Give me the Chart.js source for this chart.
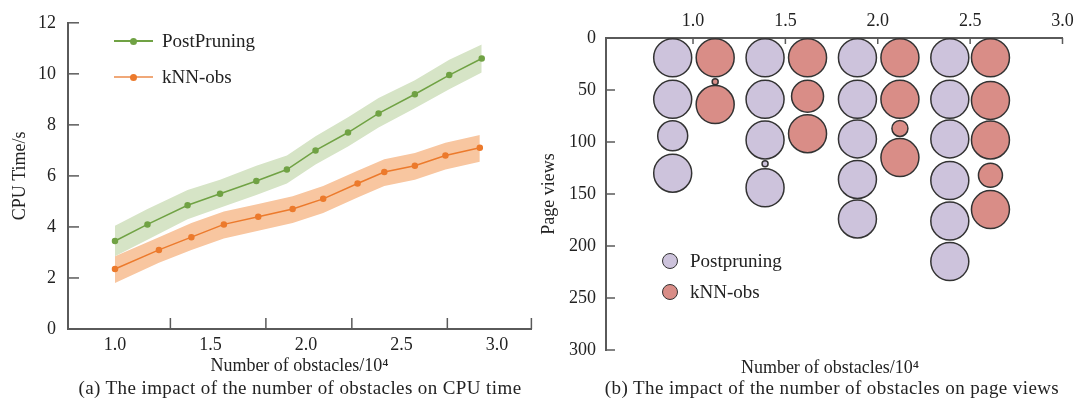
<!DOCTYPE html>
<html>
<head>
<meta charset="utf-8">
<script src="https://cdn.jsdelivr.net/npm/chart.js@4.4.1/dist/chart.umd.min.js"></script>
<style>
  body { margin: 0; background: #fff; width: 1083px; height: 404px; overflow: hidden; position: relative;
         font-family: 'Liberation Serif', serif; color: #222; }
  .box { position: absolute; top: 0; height: 380px; }
  #left { left: 0; width: 545px; }
  #right { left: 540px; width: 543px; }
  .cap { position: absolute; top: 377px; font-size: 19px; line-height: 22px; letter-spacing: 0.4px;
         white-space: nowrap; transform: translateX(-50%); }
  .ttl { position: absolute; top: 356px; font-size: 18px; line-height: 22px; white-space: nowrap; transform: translateX(-50%); }
  .leg { position: absolute; font-size: 19px; line-height: 20px; white-space: nowrap; }
  .sw { position: absolute; }
</style>
</head>
<body>
<div class="box" id="left"><canvas id="cpu"></canvas></div>
<div class="box" id="right"><canvas id="views"></canvas></div>

<!-- legend (a) -->
<div class="sw" style="left:114px;top:40px;width:39px;height:2px;background:#70a244"></div>
<div class="sw" style="left:130px;top:37.5px;width:7px;height:7px;border-radius:50%;background:#70a244"></div>
<div class="leg" style="left:162px;top:31px">PostPruning</div>
<div class="sw" style="left:114px;top:76px;width:39px;height:2px;background:#f0a878"></div>
<div class="sw" style="left:130px;top:73.5px;width:7px;height:7px;border-radius:50%;background:#ec7a2c"></div>
<div class="leg" style="left:162px;top:67px">kNN-obs</div>

<!-- legend (b) -->
<div class="sw" style="left:662px;top:253px;width:16px;height:16px;border-radius:50%;box-sizing:border-box;border:1.5px solid #333;background:#cdc3dc"></div>
<div class="leg" style="left:690px;top:251px">Postpruning</div>
<div class="sw" style="left:662px;top:284px;width:16px;height:16px;border-radius:50%;box-sizing:border-box;border:1.5px solid #333;background:#d98d87"></div>
<div class="leg" style="left:690px;top:282px">kNN-obs</div>

<div class="ttl" style="left:830px">Number of obstacles/10&#x2074;</div>
<div class="cap" style="left:300px">(a) The impact of the number of obstacles on CPU time</div>
<div class="cap" style="left:832px">(b) The impact of the number of obstacles on page views</div>

<script>
// (a) CPU time
const xPost = [1.0, 1.17, 1.38, 1.55, 1.74, 1.90, 2.05, 2.22, 2.38, 2.57, 2.75, 2.92];
const cpuPost = [3.45, 4.1, 4.85, 5.3, 5.8, 6.25, 7.0, 7.7, 8.45, 9.2, 9.95, 10.6];
const cpuPostHi = [4.05, 4.7, 5.45, 5.85, 6.4, 6.8, 7.55, 8.3, 9.05, 9.75, 10.55, 11.15];
const cpuPostLo = [2.85, 3.5, 4.3, 4.75, 5.25, 5.7, 6.45, 7.15, 7.9, 8.65, 9.4, 10.05];

const xKnn = [1.0, 1.23, 1.40, 1.57, 1.75, 1.93, 2.09, 2.27, 2.41, 2.57, 2.73, 2.91];
const cpuKnn = [2.35, 3.1, 3.6, 4.1, 4.4, 4.7, 5.1, 5.7, 6.15, 6.4, 6.8, 7.1];
const cpuKnnHi = [2.85, 3.6, 4.15, 4.6, 4.9, 5.2, 5.6, 6.2, 6.65, 6.9, 7.3, 7.6];
const cpuKnnLo = [1.8, 2.6, 3.1, 3.55, 3.85, 4.15, 4.55, 5.15, 5.6, 5.85, 6.25, 6.55];

const cpuTickLabels = [1.0, 1.5, 2.0, 2.5, 3.0];
const cpuTickMarks = [1.29, 1.79, 2.24, 2.74, 3.18];

// (b) page views, bubble size read as radius
const postX = [0.89, 0.89, 0.89, 0.89, 1.39, 1.39, 1.39, 1.39, 1.39, 1.89, 1.89, 1.89, 1.89, 1.89, 2.39, 2.39, 2.39, 2.39, 2.39, 2.39];
const postViews = [19, 59, 94, 130, 19, 59, 98, 121, 144, 19, 59, 97, 136, 174, 19, 59, 97, 137, 176, 215];
const postSize = [19, 19, 15, 19, 19, 19, 19, 3, 19, 19, 19, 19, 19, 19, 19, 19, 19, 19, 19, 19];

const knnX = [1.12, 1.12, 1.12, 1.62, 1.62, 1.62, 2.12, 2.12, 2.12, 2.12, 2.61, 2.61, 2.61, 2.61, 2.61];
const knnViews = [19, 42, 64, 19, 56, 92, 19, 59, 87, 115, 19, 60, 98, 132, 165];
const knnSize = [19, 3, 19, 19, 16, 19, 19, 19, 8, 19, 19, 19, 19, 12, 19];

const axisCol = '#5a5a5a';
const txt = '#222';
Chart.defaults.font.family = "'Liberation Serif', serif";
Chart.defaults.color = txt;

const pts = (xs, ys) => xs.map((x, i) => ({ x: x, y: ys[i] }));

// tick marks that point into the plot
const inTicks = {
  id: 'inTicks',
  beforeDatasetsDraw(chart, args, opts) {
    const { ctx, chartArea } = chart;
    const sx = chart.scales.x, sy = chart.scales.y;
    ctx.save();
    ctx.strokeStyle = axisCol;
    ctx.lineWidth = 1.5;
    const xs = opts.xMarks || sx.ticks.map(t => t.value);
    xs.forEach(v => {
      const px = sx.getPixelForValue(v);
      const y0 = opts.xTop ? chartArea.top : chartArea.bottom;
      ctx.beginPath();
      ctx.moveTo(px, y0);
      ctx.lineTo(px, opts.xTop ? y0 + opts.xLen : y0 - opts.xLen);
      ctx.stroke();
    });
    sy.ticks.forEach(t => {
      const py = sy.getPixelForValue(t.value);
      ctx.beginPath();
      ctx.moveTo(chartArea.left, py);
      ctx.lineTo(chartArea.left + opts.yLen, py);
      ctx.stroke();
    });
    ctx.restore();
  }
};

const band = (xs, ys, fill, col) => ({
  data: pts(xs, ys), borderWidth: 0, pointRadius: 0, fill: fill,
  backgroundColor: col, borderColor: col, tension: 0, order: 2
});

new Chart(document.getElementById('cpu'), {
  type: 'line',
  data: {
    datasets: [
      band(xPost, cpuPostHi, '+1', '#d6e4c6'),
      band(xPost, cpuPostLo, false, '#d6e4c6'),
      band(xKnn, cpuKnnHi, '+1', '#f8c6a0'),
      band(xKnn, cpuKnnLo, false, '#f8c6a0'),
      {
        label: 'PostPruning', data: pts(xPost, cpuPost),
        borderColor: '#70a244', backgroundColor: '#70a244',
        borderWidth: 1.5, pointRadius: 2.5, fill: false, order: 1
      },
      {
        label: 'kNN-obs', data: pts(xKnn, cpuKnn),
        borderColor: '#ec7a2c', backgroundColor: '#ec7a2c',
        borderWidth: 1.5, pointRadius: 2.5, fill: false, order: 1
      }
    ]
  },
  options: {
    responsive: true,
    maintainAspectRatio: false,
    animation: false,
    layout: { padding: { top: 17, right: 14, left: 0, bottom: 0 } },
    plugins: {
      legend: { display: false },
      tooltip: { enabled: false },
      inTicks: { xMarks: cpuTickMarks, xTop: false, xLen: 11, yLen: 11 }
    },
    scales: {
      x: {
        type: 'linear', min: 0.754, max: 3.178,
        afterBuildTicks: s => { s.ticks = cpuTickLabels.map(v => ({ value: v })); },
        afterFit: s => { s.height = 51; },
        ticks: { callback: v => v.toFixed(1), padding: 5, font: { size: 18 }, maxRotation: 0, autoSkip: false },
        grid: { display: false, drawTicks: false },
        border: { display: true, color: axisCol, width: 2 },
        title: { display: true, text: 'Number of obstacles/10\u2074', font: { size: 18 }, padding: { top: 0, bottom: 3 } }
      },
      y: {
        min: 0, max: 12,
        afterFit: s => { s.width = 68; },
        ticks: { stepSize: 2, padding: 12, font: { size: 18 } },
        grid: { display: false, drawTicks: false },
        border: { display: true, color: axisCol, width: 2 },
        title: { display: true, text: 'CPU Time/s', font: { size: 18 }, padding: { top: 9, bottom: 0 } }
      }
    }
  },
  plugins: [inTicks]
});

const bubbles = (xs, ys, rs) => xs.map((x, i) => ({ x: x, y: ys[i], r: rs[i] }));

new Chart(document.getElementById('views'), {
  type: 'bubble',
  data: {
    datasets: [
      {
        label: 'Postpruning', data: bubbles(postX, postViews, postSize),
        backgroundColor: '#cdc3dc', borderColor: '#333', borderWidth: 1.5
      },
      {
        label: 'kNN-obs', data: bubbles(knnX, knnViews, knnSize),
        backgroundColor: '#d98d87', borderColor: '#333', borderWidth: 1.5
      }
    ]
  },
  options: {
    responsive: true,
    maintainAspectRatio: false,
    animation: false,
    layout: { padding: { top: 0, right: 15, left: 0, bottom: 30 } },
    plugins: {
      legend: { display: false },
      tooltip: { enabled: false },
      inTicks: { xTop: true, xLen: 6, yLen: 9 }
    },
    scales: {
      x: {
        type: 'linear', position: 'top', min: 0.529, max: 3.0,
        afterBuildTicks: s => { s.ticks = cpuTickLabels.map(v => ({ value: v })); },
        afterFit: s => { s.height = 38; },
        ticks: { callback: v => v.toFixed(1), padding: 6, font: { size: 18 }, maxRotation: 0, autoSkip: false },
        grid: { display: false, drawTicks: false },
        border: { display: true, color: axisCol, width: 2 }
      },
      y: {
        reverse: true, min: 0, max: 300,
        afterFit: s => { s.width = 66; },
        ticks: { stepSize: 50, padding: 10, font: { size: 18 } },
        grid: { display: false, drawTicks: false },
        border: { display: true, color: axisCol, width: 2 },
        title: { display: true, text: 'Page views', font: { size: 18, lineHeight: 1 }, padding: { top: 0, bottom: 0 } }
      }
    }
  },
  plugins: [inTicks]
});
</script>
</body>
</html>
